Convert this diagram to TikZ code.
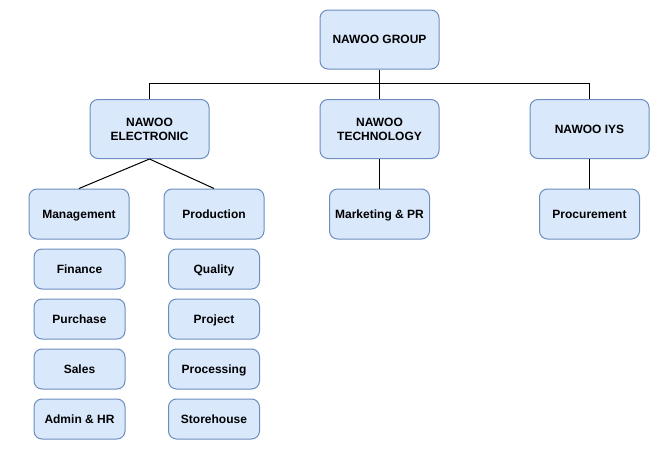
\documentclass[tikz,border=0pt]{standalone}
\usepackage{fontspec}
\setmainfont{Liberation Sans}
\definecolor{boxfill}{HTML}{DAE8FC}
\definecolor{boxline}{HTML}{6C8EBF}
\tikzset{
  unit/.style={draw=boxline, fill=boxfill, rounded corners=8pt, line width=1pt,
    align=center, font=\fontsize{12}{14}\selectfont\bfseries, inner sep=0pt},
  bigbox/.style={unit, minimum width=119pt, minimum height=59pt},
  midbox/.style={unit, minimum width=100pt, minimum height=50pt,
    text height=8.6pt, text depth=0pt},
  smallbox/.style={unit, minimum width=91pt, minimum height=40pt,
    text height=8.6pt, text depth=0pt},
  link/.style={line width=1pt, black}
}
\begin{document}
\begin{tikzpicture}[x=1pt, y=-1pt]
      \useasboundingbox (0,0) rectangle (670,450);

      % Boxes (top)
      \node[bigbox] (group) at (379.5,39.5) {NAWOO GROUP};
      \node[bigbox] (elec) at (149.5,129) {NAWOO\\ELECTRONIC};
      \node[bigbox] (tech) at (379.5,129) {NAWOO\\TECHNOLOGY};
      \node[bigbox] (iys) at (589.5,129) {NAWOO IYS};

      % Boxes (departments)
      \node[midbox] (mgmt) at (79,214) {Management};
      \node[midbox] (prod) at (214,214) {Production};
      \node[midbox] (mkt) at (379.5,214) {Marketing \& PR};
      \node[midbox] (proc) at (589.5,214) {Procurement};

      % Boxes (management)
      \node[smallbox] (fin) at (79.5,269) {Finance};
      \node[smallbox] (purch) at (79.5,319) {Purchase};
      \node[smallbox] (sales) at (79.5,369) {Sales};
      \node[smallbox] (admin) at (79.5,419) {Admin \& HR};

      % Boxes (production)
      \node[smallbox] (qual) at (214,269) {Quality};
      \node[smallbox] (proj) at (214,319) {Project};
      \node[smallbox] (procs) at (214,369) {Processing};
      \node[smallbox] (store) at (214,419) {Storehouse};

      % Links (top)
      \draw[link] (group.south) -- ++(0,14) coordinate (bus);
      \draw[link] (elec.north) |- (bus) -| (iys.north);
      \draw[link] (tech.north) -- (tech.north |- bus);

      % Links (departments)
      \draw[link] (elec.south) -- (mgmt.north);
      \draw[link] (elec.south) -- (prod.north);
      \draw[link] (tech.south) -- (mkt.north);
      \draw[link] (iys.south) -- (proc.north);
    \end{tikzpicture}
\end{document}
